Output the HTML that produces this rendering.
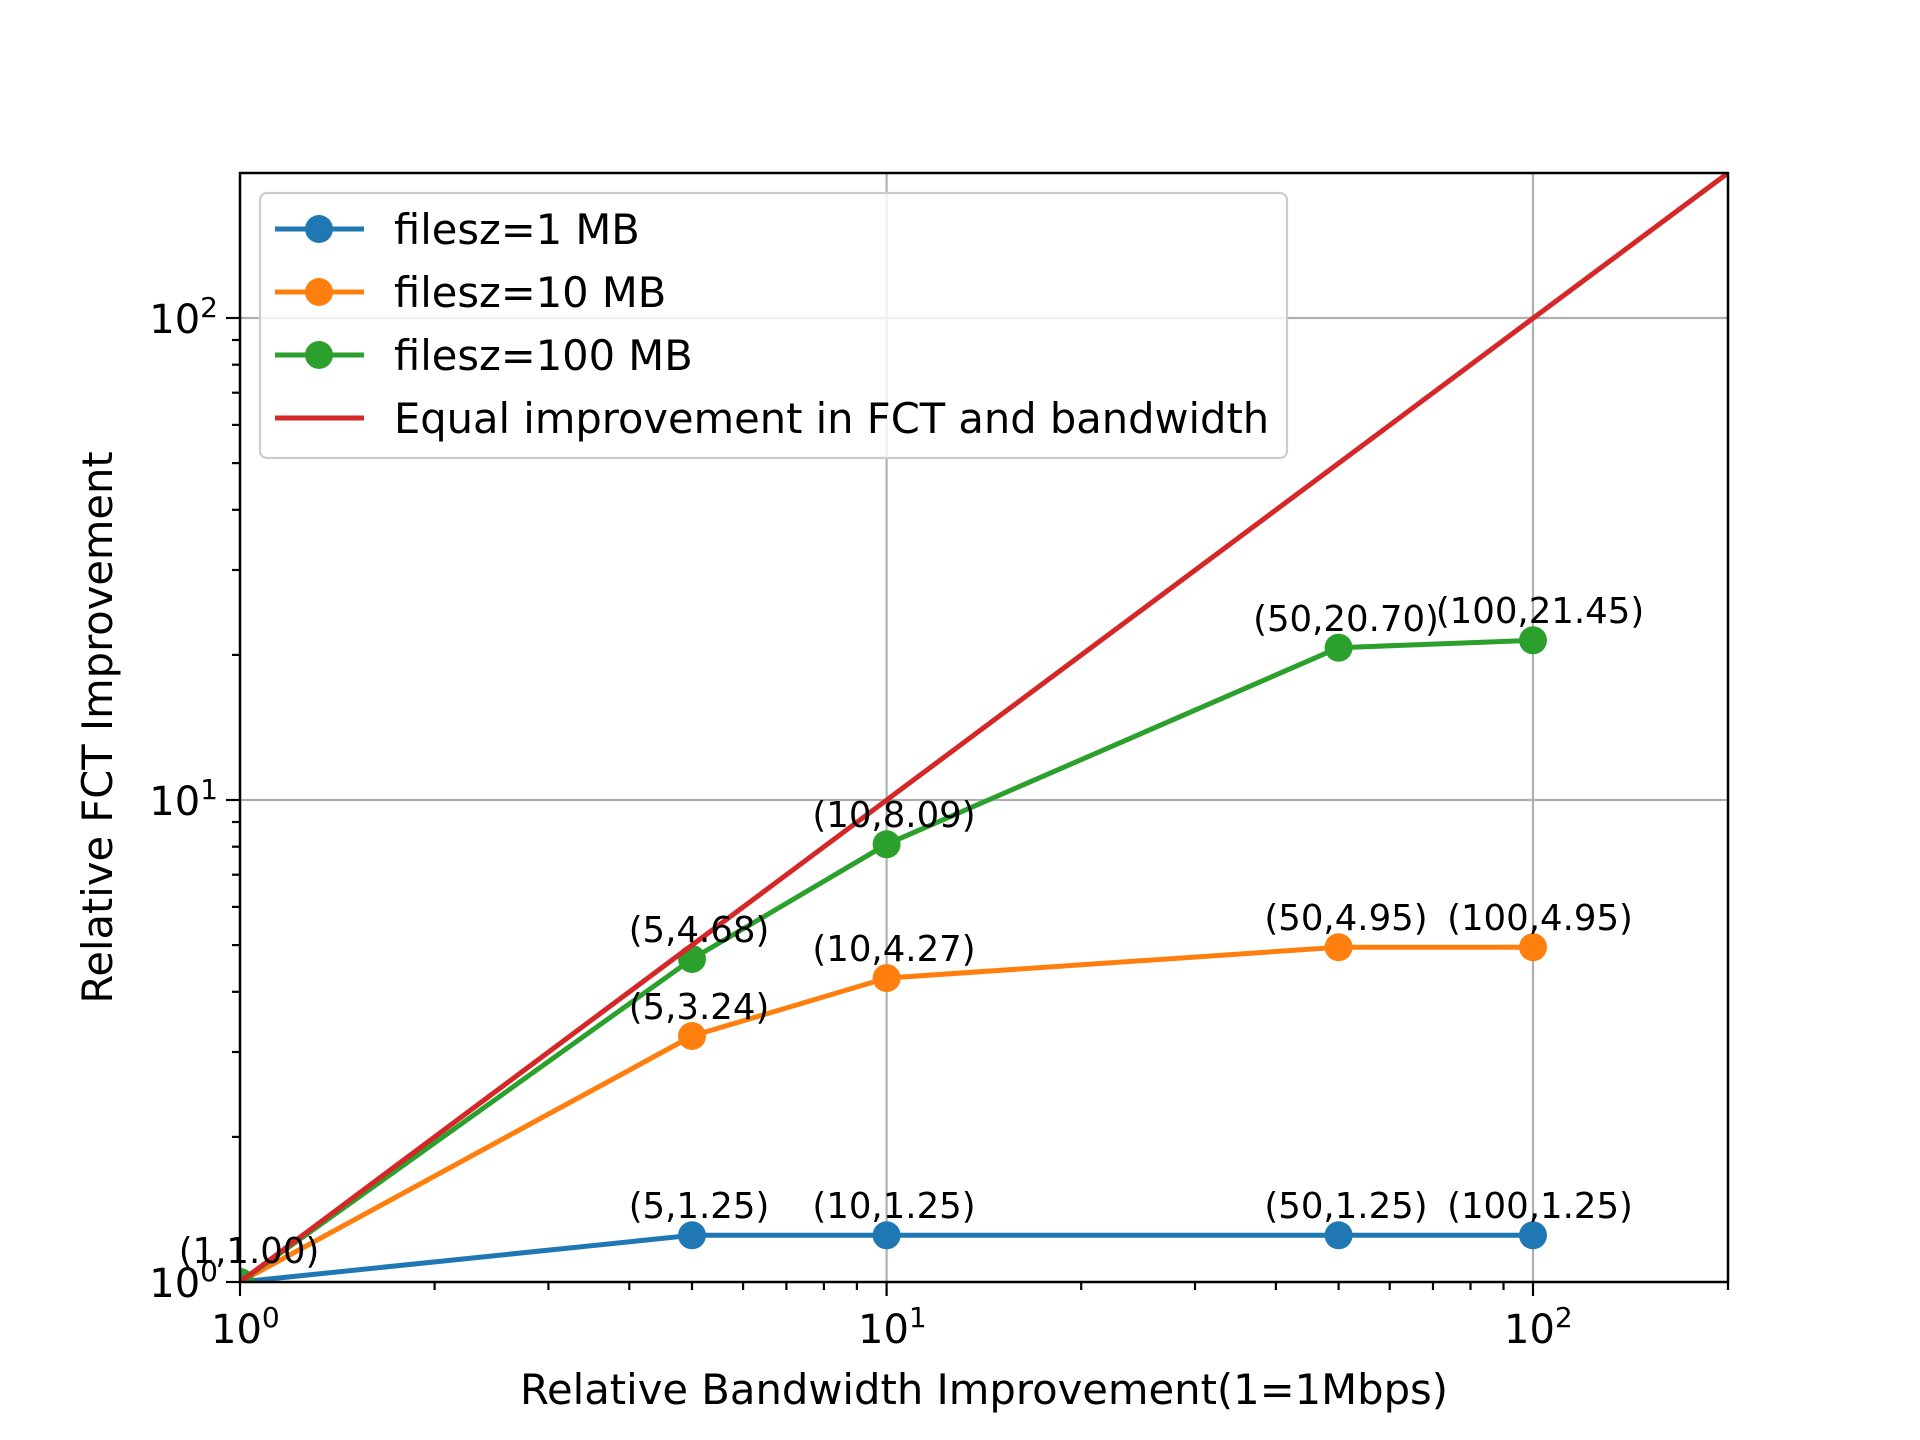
<!DOCTYPE html>
<html><head><meta charset="utf-8"><style>
html,body{margin:0;padding:0;background:#fff;}
svg{display:block;}
text{font-family:"DejaVu Sans","Liberation Sans",sans-serif;fill:#000;}
</style></head><body>
<svg width="1920" height="1440" viewBox="0 0 1920 1440" xmlns="http://www.w3.org/2000/svg">
<defs><clipPath id="ax"><rect x="240" y="173" width="1488" height="1109"/></clipPath></defs>
<rect width="1920" height="1440" fill="#fff"/>
<g stroke="#b0b0b0" stroke-width="2.2">
<line x1="886.6" y1="173" x2="886.6" y2="1282"/>
<line x1="1533" y1="173" x2="1533" y2="1282"/>
<line x1="240" y1="800" x2="1728" y2="800"/>
<line x1="240" y1="318" x2="1728" y2="318"/>
</g>
<g clip-path="url(#ax)">
<g fill="none" stroke-width="5" stroke-linejoin="round">
<polyline stroke="#1f77b4" points="240,1282 692,1235.3 886.6,1235.3 1338.6,1235.3 1533,1235.3"/>
<polyline stroke="#ff7f0e" points="240,1282 692,1036 886.6,978.1 1338.6,947.2 1533,947.2"/>
<polyline stroke="#2ca02c" points="240,1282 692,959 886.6,844.3 1338.6,647.7 1533,640.3"/>
</g>
<g fill="#1f77b4"><circle cx="240" cy="1282" r="14"/><circle cx="692" cy="1235.3" r="14"/><circle cx="886.6" cy="1235.3" r="14"/><circle cx="1338.6" cy="1235.3" r="14"/><circle cx="1533" cy="1235.3" r="14"/></g>
<g fill="#ff7f0e"><circle cx="240" cy="1282" r="14"/><circle cx="692" cy="1036" r="14"/><circle cx="886.6" cy="978.1" r="14"/><circle cx="1338.6" cy="947.2" r="14"/><circle cx="1533" cy="947.2" r="14"/></g>
<g fill="#2ca02c"><circle cx="240" cy="1282" r="14"/><circle cx="692" cy="959" r="14"/><circle cx="886.6" cy="844.3" r="14"/><circle cx="1338.6" cy="647.7" r="14"/><circle cx="1533" cy="640.3" r="14"/></g>
<line x1="240" y1="1282" x2="1728" y2="173" stroke="#d62728" stroke-width="5"/>
</g>
<rect x="240" y="173" width="1488" height="1109" fill="none" stroke="#000" stroke-width="2.5"/>
<g stroke="#000" stroke-width="2.2">
<line x1="240" y1="1282" x2="240" y2="1296"/><line x1="886.6" y1="1282" x2="886.6" y2="1296"/><line x1="1533" y1="1282" x2="1533" y2="1296"/>
<line x1="434.6" y1="1282" x2="434.6" y2="1290"/><line x1="548.4" y1="1282" x2="548.4" y2="1290"/><line x1="629.3" y1="1282" x2="629.3" y2="1290"/><line x1="692" y1="1282" x2="692" y2="1290"/><line x1="743.1" y1="1282" x2="743.1" y2="1290"/><line x1="786.4" y1="1282" x2="786.4" y2="1290"/><line x1="823.9" y1="1282" x2="823.9" y2="1290"/><line x1="856.9" y1="1282" x2="856.9" y2="1290"/>
<line x1="1081.2" y1="1282" x2="1081.2" y2="1290"/><line x1="1195" y1="1282" x2="1195" y2="1290"/><line x1="1275.9" y1="1282" x2="1275.9" y2="1290"/><line x1="1338.6" y1="1282" x2="1338.6" y2="1290"/><line x1="1389.7" y1="1282" x2="1389.7" y2="1290"/><line x1="1433" y1="1282" x2="1433" y2="1290"/><line x1="1470.5" y1="1282" x2="1470.5" y2="1290"/><line x1="1503.5" y1="1282" x2="1503.5" y2="1290"/><line x1="1728" y1="1282" x2="1728" y2="1290"/>
<line x1="226" y1="1282" x2="240" y2="1282"/><line x1="226" y1="800" x2="240" y2="800"/><line x1="226" y1="318" x2="240" y2="318"/>
<line x1="232" y1="1136.9" x2="240" y2="1136.9"/><line x1="232" y1="1052" x2="240" y2="1052"/><line x1="232" y1="991.8" x2="240" y2="991.8"/><line x1="232" y1="945.1" x2="240" y2="945.1"/><line x1="232" y1="906.9" x2="240" y2="906.9"/><line x1="232" y1="874.7" x2="240" y2="874.7"/><line x1="232" y1="846.7" x2="240" y2="846.7"/><line x1="232" y1="822" x2="240" y2="822"/>
<line x1="232" y1="654.9" x2="240" y2="654.9"/><line x1="232" y1="570" x2="240" y2="570"/><line x1="232" y1="509.8" x2="240" y2="509.8"/><line x1="232" y1="463.1" x2="240" y2="463.1"/><line x1="232" y1="424.9" x2="240" y2="424.9"/><line x1="232" y1="392.7" x2="240" y2="392.7"/><line x1="232" y1="364.7" x2="240" y2="364.7"/><line x1="232" y1="340" x2="240" y2="340"/>
</g>
<g font-size="40">
<text x="211" y="1343">10<tspan font-size="28" dy="-16">0</tspan></text>
<text x="858" y="1343">10<tspan font-size="28" dy="-16">1</tspan></text>
<text x="1504" y="1343">10<tspan font-size="28" dy="-16">2</tspan></text>
<text x="218" y="1297" text-anchor="end">10<tspan font-size="28" dy="-16">0</tspan></text>
<text x="218" y="815" text-anchor="end">10<tspan font-size="28" dy="-16">1</tspan></text>
<text x="218" y="333" text-anchor="end">10<tspan font-size="28" dy="-16">2</tspan></text>
</g>
<g font-size="35.5" text-anchor="middle">
<text x="249" y="1263">(1,1.00)</text>
<text x="699" y="1218">(5,1.25)</text>
<text x="894" y="1218">(10,1.25)</text>
<text x="1346" y="1218">(50,1.25)</text>
<text x="1540" y="1218">(100,1.25)</text>
<text x="699" y="1019">(5,3.24)</text>
<text x="894" y="961">(10,4.27)</text>
<text x="1346" y="930">(50,4.95)</text>
<text x="1540" y="930">(100,4.95)</text>
<text x="699" y="942">(5,4.68)</text>
<text x="894" y="827">(10,8.09)</text>
<text x="1346" y="631">(50,20.70)</text>
<text x="1540" y="623">(100,21.45)</text>
</g>
<rect x="260" y="193" width="1027" height="265" rx="7" fill="#fff" fill-opacity="0.8" stroke="#ccc" stroke-width="2.2"/>
<g stroke-width="5">
<line x1="275" y1="229" x2="364" y2="229" stroke="#1f77b4"/><circle cx="319" cy="229" r="14" fill="#1f77b4"/>
<line x1="275" y1="292" x2="364" y2="292" stroke="#ff7f0e"/><circle cx="319" cy="292" r="14" fill="#ff7f0e"/>
<line x1="275" y1="355" x2="364" y2="355" stroke="#2ca02c"/><circle cx="319" cy="355" r="14" fill="#2ca02c"/>
<line x1="275" y1="418" x2="364" y2="418" stroke="#d62728"/>
</g>
<g font-size="41.6">
<text x="394" y="244">filesz=1 MB</text>
<text x="394" y="307">filesz=10 MB</text>
<text x="394" y="370">filesz=100 MB</text>
<text x="394" y="433">Equal improvement in FCT and bandwidth</text>
</g>
<text x="984" y="1404" font-size="41.7" text-anchor="middle">Relative Bandwidth Improvement(1=1Mbps)</text>
<text transform="translate(112,727.5) rotate(-90)" font-size="41.6" text-anchor="middle">Relative FCT Improvement</text>
</svg>
</body></html>
